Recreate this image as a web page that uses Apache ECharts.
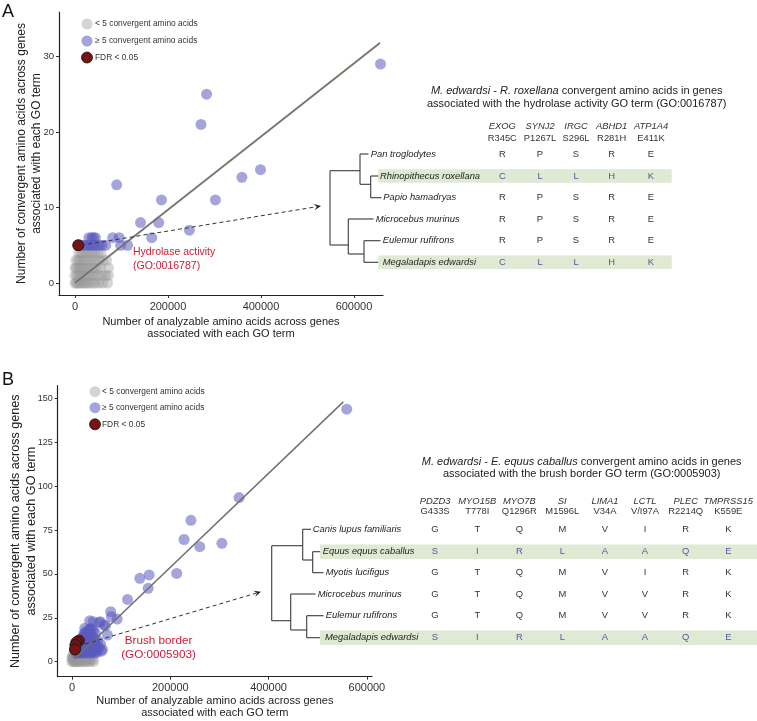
<!DOCTYPE html>
<html><head><meta charset="utf-8">
<script src="https://cdn.jsdelivr.net/npm/echarts@6/dist/echarts.min.js"></script>
<style>html,body{margin:0;padding:0;background:#fff}#c{width:757px;height:721px}</style>
</head><body><div id="c"></div>
<script>
// ---------- DATA ----------
const xTicks = [0, 200000, 400000, 600000];
const yTicksA = [0, 10, 20, 30];
const yTicksB = [0, 25, 50, 75, 100, 125, 150];

const legendLabels = ['< 5 convergent amino acids', '\u2265 5 convergent amino acids', 'FDR < 0.05'];

// Panel A: hydrolase activity
const greyA = [
  [0,0],[3000,0],[6000,0],[10000,0],[14000,0],[18000,0],[22000,0],[27000,0],[32000,0],[38000,0],[44000,0],[52000,0],[60000,0],[70000,0],
  [0,1],[4000,1],[8000,1],[12000,1],[16000,1],[21000,1],[26000,1],[31000,1],[37000,1],[43000,1],[50000,1],[58000,1],[66000,1],[72000,1],
  [0,2],[3000,2],[7000,2],[11000,2],[15000,2],[20000,2],[25000,2],[30000,2],[36000,2],[42000,2],[48000,2],[55000,2],[72000,2],
  [2000,3],[6000,3],[10000,3],[15000,3],[20000,3],[26000,3],[32000,3],[38000,3],[45000,3],[52000,3],[60000,3],[68000,3],
  [8000,4],[13000,4],[18000,4],[24000,4],[30000,4],[36000,4],[42000,4],[50000,4],[56000,4]
];
const blueA = [
  [657000,29],[283000,25],[271000,21],[399000,15],[359000,14],[89700,13],[186000,11],[302000,11],
  [141000,8],[180000,8],[246000,7],[165000,6],[81000,6],[95000,6],[98000,5],[113000,5],
  [30000,6],[36000,6],[40000,6],[44000,6],
  [12000,5],[18000,5],[24000,5],[30000,5],[35000,5],[40000,5],[45000,5],[52000,5],[58000,5],[66000,5]
];
const redA = [[7000,5]];
const fitA = [[0,0],[656000,31.8]];

// Panel B: brush border
const greyB = [
  [0,0],[3000,0],[6000,0],[9000,0],[13000,0],[17000,0],[21000,0],[26000,0],[31000,0],[37000,0],[44000,0],
  [1000,1],[4000,1],[8000,1],[12000,1],[16000,1],[20000,1],[25000,1],[30000,1],[36000,1],[42000,1],
  [0,2],[3000,2],[7000,2],[11000,2],[15000,2],[19000,2],[24000,2],[29000,2],[35000,2],
  [1000,3],[5000,3],[9000,3],[13000,3],[18000,3],[23000,3],[28000,3],
  [2000,4],[6000,4],[10000,4],[14000,4],[19000,4],[24000,4]
];
const blueB = [
  [8000,5],[12000,5],[16000,5],[20000,5],[24000,5],[28000,5],[33000,5],[38000,5],[44000,5],[50000,5],
  [10000,6],[14000,6],[18000,6],[22000,6],[27000,6],[32000,6],[37000,6],[43000,6],[52000,6],[60000,6],
  [9000,7],[13000,7],[17000,7],[21000,7],[25000,7],[30000,7],[35000,7],[41000,7],[48000,7],[62000,7],
  [11000,8],[15000,8],[19000,8],[23000,8],[28000,8],[34000,8],[40000,8],[46000,8],[55000,8],
  [12000,9],[16000,9],[20000,9],[25000,9],[30000,9],[36000,9],[42000,9],[50000,9],
  [14000,10],[18000,10],[22000,10],[27000,10],[33000,10],[39000,10],[47000,10],[58000,10],
  [15000,11],[20000,11],[25000,11],[31000,11],[37000,11],[45000,11],
  [17000,12],[22000,12],[28000,12],[34000,12],[41000,12],[52000,12],
  [19000,13],[25000,13],[31000,13],[38000,13],[46000,13],
  [22000,14],[28000,14],[35000,14],[43000,14],
  [25000,15],[32000,15],[40000,15],[72000,15.2],
  [24000,16],[30000,16],[48000,16],
  [28000,17],[36000,17],[34600,18.4],[44000,18],[37000,18.6],[26000,19],[40000,19],
  [43000,22.8],[55500,22.4],[65000,20.9],[68000,20.5],[57600,22.8],[36000,23.3],
  [78700,28.5],[80000,25.6],[92000,24.3],[113000,35.5],[138000,47.5],[157000,49.4],[155000,41.8],
  [213000,50.3],[228000,69.6],[242000,80.5],[260000,65.5],[305000,67.4],[340000,93.5],[559000,143.8]
];
const redB = [[14000,12],[9000,11],[7000,9.5],[6000,7]];
const fitB = [[5000,1.5],[552000,148]];

// Tables
const titleA = ['M. edwardsi', 'R. roxellana', 'hydrolase activity', 'GO:0016787'];
const genesA = ['EXOG','SYNJ2','IRGC','ABHD1','ATP1A4'];
const mutsA = ['R345C','P1267L','S296L','R281H','E411K'];
const speciesA = ['Pan troglodytes','Rhinopithecus roxellana','Papio hamadryas','Microcebus murinus','Eulemur rufifrons','Megaladapis edwardsi'];
const aaA = [
  ['R','P','S','R','E'],
  ['C','L','L','H','K'],
  ['R','P','S','R','E'],
  ['R','P','S','R','E'],
  ['R','P','S','R','E'],
  ['C','L','L','H','K']
];
const hlA = [1,5];

const titleB = ['M. edwardsi', 'E. equus caballus', 'brush border', 'GO:0005903'];
const genesB = ['PDZD3','MYO15B','MYO7B','SI','LIMA1','LCTL','PLEC','TMPRSS15'];
const mutsB = ['G433S','T778I','Q1296R','M1596L','V34A','V/I97A','R2214Q','K559E'];
const speciesB = ['Canis lupus familiaris','Equus equus caballus','Myotis lucifigus','Microcebus murinus','Eulemur rufifrons','Megaladapis edwardsi'];
const aaB = [
  ['G','T','Q','M','V','I','R','K'],
  ['S','I','R','L','A','A','Q','E'],
  ['G','T','Q','M','V','I','R','K'],
  ['G','T','Q','M','V','V','R','K'],
  ['G','T','Q','M','V','V','R','K'],
  ['S','I','R','L','A','A','Q','E']
];
const hlB = [1,5];

// ---------- STYLE / LAYOUT ----------
const F = '"Liberation Sans", Arial, Helvetica, sans-serif';
const GREY = '#999999', BLUE = '#5b5bc0', RED = '#7a1212';
const chart = echarts.init(document.getElementById('c'), null, {renderer:'canvas'});

function txt(x, y, text, o) {
  return {type:'text', silent:true, z:50,
    style: Object.assign({x:x, y:y, text:text, fontFamily:F, fontSize:9.4, fill:'#333',
      align:'left', verticalAlign:'middle', textAlign:'left', textVerticalAlign:'middle'}, o || {})};
}
function seg(pts, o) {
  return {type:'polyline', silent:true, z:40, shape:{points:pts},
    style: Object.assign({stroke:'#3a3a3a', lineWidth:1.1, fill:null}, o || {})};
}

function xAx(grid, min, max, nameGap) {
  return {type:'value', gridIndex:grid, min:min, max:max,
    splitLine:{show:false},
    axisLine:{show:true, onZero:false, lineStyle:{color:'#222', width:1.2}},
    axisTick:{show:true, customValues:xTicks, length:3, lineStyle:{color:'#333'}},
    axisLabel:{customValues:xTicks, fontSize:11, color:'#333', margin:6, fontFamily:F, formatter:function(v){return String(v);}},
    name:'Number of analyzable amino acids across genes\nassociated with each GO term',
    nameLocation:'middle', nameGap:nameGap, nameMoveOverlap:false,
    nameTextStyle:{fontSize:11, fontFamily:F, color:'#222', lineHeight:12}};
}
function yAx(grid, min, max, ticks, fs, nameGap, nfs, nlh) {
  return {type:'value', gridIndex:grid, min:min, max:max,
    splitLine:{show:false},
    axisLine:{show:true, onZero:false, lineStyle:{color:'#222', width:1.2}},
    axisTick:{show:true, customValues:ticks, length:3, lineStyle:{color:'#333'}},
    axisLabel:{customValues:ticks, fontSize:fs, color:'#333', margin:5, fontFamily:F},
    name:'Number of convergent amino acids across genes\nassociated with each GO term',
    nameLocation:'middle', nameGap:nameGap, nameMoveOverlap:false,
    nameTextStyle:{fontSize:nfs, fontFamily:F, color:'#222', lineHeight:nlh}};
}
function sc(name, data, xi, color, op, z, border) {
  return {type:'scatter', name:name, xAxisIndex:xi, yAxisIndex:xi, data:data, symbolSize:11, z:z, silent:true,
    itemStyle: Object.assign({color:color, opacity:op}, border ? {borderColor:'#1a1a1a', borderWidth:1} : {}),
    emphasis:{disabled:true}};
}
function fit(data, xi, w, c, z) {
  return {type:'line', xAxisIndex:xi, yAxisIndex:xi, data:data, symbol:'none', z:z, silent:true,
    lineStyle:{color:c, width:w}, emphasis:{disabled:true}};
}

const option = {
  animation:false,
  backgroundColor:'#fff',
  textStyle:{fontFamily:F},
  grid:[
    {left:59, top:12, width:324, height:283, outerBoundsMode:'none', containLabel:false},
    {left:57.7, top:385.7, width:314.3, height:291, outerBoundsMode:'none', containLabel:false}
  ],
  xAxis:[ xAx(0, -34400, 662400, 21), xAx(1, -29100, 610400, 18) ],
  yAxis:[ yAx(0, -1.59, 35.89, yTicksA, 9.5, 14.5, 12, 15), yAx(1, -8.54, 157.2, yTicksB, 9, 17.5, 12.6, 16.5) ],
  series:[
    sc(legendLabels[0], greyA, 0, GREY, 0.4, 2),
    sc(legendLabels[1], blueA, 0, BLUE, 0.55, 3),
    fit(fitA, 0, 2.6, 'rgba(200,150,110,0.3)', 4),
    fit(fitA, 0, 1.6, '#6e6e6e', 5),
    sc(legendLabels[2], redA, 0, RED, 1, 6, true),
    sc(legendLabels[0], greyB, 1, GREY, 0.4, 2),
    sc(legendLabels[1], blueB, 1, BLUE, 0.55, 3),
    fit(fitB, 1, 1.5, '#707070', 5),
    sc(legendLabels[2], redB, 1, RED, 1, 6, true)
  ]
};
chart.setOption(option);

// ---------- GRAPHICS: legends, labels, tables, trees, arrows ----------
const g = [];
g.push(txt(2, 12.5, 'A', {fontSize:18, fill:'#111'}));
g.push(txt(2, 380, 'B', {fontSize:18, fill:'#111'}));

function legend(cx, ys, tx, fs) {
  const fills = ['#d4d4d4', '#a4a4dc', RED];
  ys.forEach(function(y, i) {
    g.push({type:'circle', silent:true, z:45, shape:{cx:cx, cy:y, r:5.5},
      style:{fill:fills[i], stroke: i===2 ? '#1a1a1a' : null, lineWidth:0.8}});
    g.push(txt(tx, y, legendLabels[i], {fontSize:fs, fill:'#333'}));
  });
}
legend(87, [24, 41, 57.5], 95, 8.4);
legend(95, [391.7, 407.7, 424.3], 102, 8.4);

g.push(txt(133, 251.7, 'Hydrolase activity', {fontSize:10.5, fill:'#c8203a'}));
g.push(txt(133, 266, '(GO:0016787)', {fontSize:10.5, fill:'#c8203a'}));
g.push(txt(158.5, 641, 'Brush border', {fontSize:11.7, fill:'#c8203a', align:'center', textAlign:'center'}));
g.push(txt(158.5, 654.3, '(GO:0005903)', {fontSize:11.7, fill:'#c8203a', align:'center', textAlign:'center'}));

function table(T) {
  const rich = {i:{fontStyle:'italic', fontSize:11, fontFamily:F, fill:'#222'}, n:{fontSize:11, fontFamily:F, fill:'#222'}};
  g.push(txt(T.titleX, T.titleY[0], '{i|' + T.title[0] + '}{n| - }{i|' + T.title[1] + '}{n| convergent amino acids in genes}',
    {fontSize:11, fill:'#222', align:'center', textAlign:'center', rich:rich}));
  g.push(txt(T.titleX, T.titleY[1], 'associated with the ' + T.title[2] + ' GO term (' + T.title[3] + ')',
    {fontSize:11, fill:'#222', align:'center', textAlign:'center'}));
  T.hl.forEach(function(r) {
    g.push({type:'rect', silent:true, z:30, shape:{x:T.boxX0, y:T.rowY[r] - T.boxH/2, width:T.boxX1 - T.boxX0, height:T.boxH},
      style:{fill:'#e0e9d3'}});
  });
  T.genes.forEach(function(gn, j) {
    g.push(txt(T.colX[j], T.geneY, gn, {fontStyle:'italic', align:'center', textAlign:'center', fill:'#333'}));
    g.push(txt(T.colX[j], T.mutY, T.muts[j], {align:'center', textAlign:'center', fill:'#333'}));
  });
  T.species.forEach(function(sp, r) {
    const hl = T.hl.indexOf(r) >= 0;
    g.push(txt(T.spX[r], T.rowY[r], sp, {fontStyle:'italic', fill:'#222'}));
    T.aa[r].forEach(function(a, j) {
      g.push(txt(T.colX[j], T.rowY[r], a, {align:'center', textAlign:'center', fill: hl ? '#4b5aa0' : '#333'}));
    });
  });
  T.tree.forEach(function(p) { g.push(seg(p)); });
}

table({
  title:titleA, titleX:576.7, titleY:[90.5, 103.5],
  genes:genesA, muts:mutsA, species:speciesA, aa:aaA, hl:hlA,
  colX:[502.3, 540, 576, 611.7, 651], geneY:126.7, mutY:138.3,
  rowY:[154, 176, 197.7, 219, 240.7, 262.3],
  spX:[370.7, 380, 383.3, 375.7, 382.7, 382.7],
  boxX0:378.3, boxX1:671.7, boxH:13.4,
  tree:[
    [[330,170.7],[330,245]],
    [[330,170.7],[360,170.7]],
    [[360,154],[360,184.3]],
    [[360,154],[368.5,154]],
    [[360,184.3],[370.7,184.3]],
    [[370.7,176],[370.7,197.7]],
    [[370.7,176],[378.3,176]],
    [[370.7,197.7],[381.5,197.7]],
    [[330,245],[348.3,245]],
    [[348.3,219],[348.3,254]],
    [[348.3,219],[373.5,219]],
    [[348.3,254],[364,254]],
    [[364,240.7],[364,262.3]],
    [[364,240.7],[380.5,240.7]],
    [[364,262.3],[378.3,262.3]]
  ]
});

table({
  title:titleB, titleX:581.7, titleY:[461.7, 474.3],
  genes:genesB, muts:mutsB, species:speciesB, aa:aaB, hl:hlB,
  colX:[435, 477.3, 519.3, 562.3, 605, 645, 685.7, 728.3], geneY:501, mutY:511.7,
  rowY:[529.3, 551.7, 572.7, 594, 615.7, 637.7],
  spX:[312.7, 322.7, 325.7, 317.7, 325.7, 325],
  boxX0:320, boxX1:757, boxH:14.4,
  tree:[
    [[271.7,545.7],[271.7,620.7]],
    [[271.7,545.7],[302.7,545.7]],
    [[302.7,529.3],[302.7,560]],
    [[302.7,529.3],[311,529.3]],
    [[302.7,560],[312.7,560]],
    [[312.7,551.7],[312.7,572.7]],
    [[312.7,551.7],[320,551.7]],
    [[312.7,572.7],[323.5,572.7]],
    [[271.7,620.7],[290.7,620.7]],
    [[290.7,594],[290.7,630]],
    [[290.7,594],[315.5,594]],
    [[290.7,630],[306.7,630]],
    [[306.7,615.7],[306.7,637.7]],
    [[306.7,615.7],[323.5,615.7]],
    [[306.7,637.7],[320,637.7]]
  ]
});

function arrow(p0, p1) {
  const dx = p1[0]-p0[0], dy = p1[1]-p0[1], L = Math.sqrt(dx*dx+dy*dy);
  const ux = dx/L, uy = dy/L, nx = -uy, ny = ux;
  const al = 7, aw = 3.2;
  const bx = p1[0]-ux*al, by = p1[1]-uy*al;
  g.push({type:'line', silent:true, z:44, shape:{x1:p0[0], y1:p0[1], x2:bx+ux*2, y2:by+uy*2},
    style:{stroke:'#333', lineWidth:1, lineDash:[4,3]}});
  g.push({type:'polygon', silent:true, z:44, shape:{points:[
    [p1[0],p1[1]], [bx+nx*aw, by+ny*aw], [p1[0]-ux*al*0.6, p1[1]-uy*al*0.6], [bx-nx*aw, by-ny*aw]]},
    style:{fill:'#222'}});
}
const pA = chart.convertToPixel({xAxisIndex:0, yAxisIndex:0}, redA[0]);
const pB = chart.convertToPixel({xAxisIndex:1, yAxisIndex:1}, redB[2]);
arrow([pA[0]+3, pA[1]], [321, 206]);
arrow([pB[0]+3, pB[1]+1], [261, 591.7]);

chart.setOption({graphic:{elements:g}});
</script>
</body></html>
